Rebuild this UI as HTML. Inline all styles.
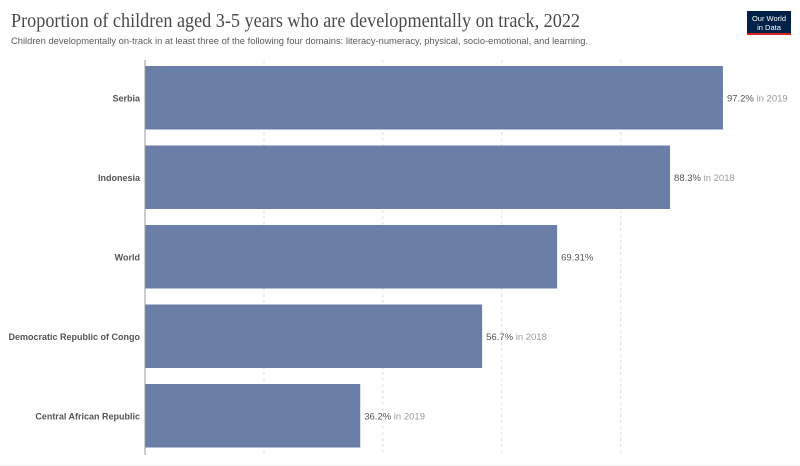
<!DOCTYPE html>
<html><head><meta charset="utf-8"><style>
body{margin:0;width:800px;height:466px;background:#fff;overflow:hidden;font-family:"Liberation Sans",sans-serif}
svg{display:block}
</style></head><body>
<svg id="c" width="800" height="466">
<text x="11" y="27" font-family="Liberation Serif, serif" font-size="19.5" fill="#4a4a4a" textLength="569" lengthAdjust="spacingAndGlyphs">Proportion of children aged 3-5 years who are developmentally on track, 2022</text>
<text x="11" y="44" font-size="9.6" fill="#5b5b5b" textLength="577" lengthAdjust="spacingAndGlyphs">Children developmentally on-track in at least three of the following four domains: literacy-numeracy, physical, socio-emotional, and learning.</text>
<g>
<rect x="747" y="11" width="44" height="24" fill="#002147"/>
<rect x="747" y="33" width="44" height="2" fill="#ce261e"/>
<text x="769" y="21" font-size="7.5" fill="#fff" text-anchor="middle">Our World</text>
<text x="769" y="30" font-size="7.5" fill="#fff" text-anchor="middle">in Data</text>
</g>
<g id="grid"></g><g id="bars"></g>
<line x1="145" y1="60" x2="145" y2="455" stroke="#999" stroke-width="1"/>
<line x1="0" y1="465.5" x2="800" y2="465.5" stroke="#eee"/>
</svg>
<script>
const categories=["Serbia","Indonesia","World","Democratic Republic of Congo","Central African Republic"];
const values=[97.2,88.3,69.31,56.7,36.2];
const valueLabels=["97.2%","88.3%","69.31%","56.7%","36.2%"];
const years=["in 2019","in 2018","","in 2018","in 2019"];
const gridTicks=[20,40,60,80];
const NS="http://www.w3.org/2000/svg";
const x=v=>145+v*5.946;
const y=i=>66+i*79.5;
const bh=63.5;
function mk(t,a,p){const e=document.createElementNS(NS,t);for(const k in a)e.setAttribute(k,a[k]);p.appendChild(e);return e;}
const g=document.getElementById('grid'),b=document.getElementById('bars');
gridTicks.forEach(t=>{
const l=mk('line',{x1:x(t),x2:x(t),y1:60,y2:455,stroke:'#ddd','stroke-dasharray':'3,3'},g);


});
categories.forEach((c,i)=>{
const r=mk('rect',{x:145,y:y(i),width:x(values[i])-145,height:bh,fill:'#6a7ea8'},b);


const lab=mk('text',{x:140,y:y(i)+bh/2+3.5,'text-anchor':'end','font-size':'9','font-weight':'bold',fill:'#555'},b);
lab.textContent=c;


const v=mk('text',{x:x(values[i])+4,y:y(i)+bh/2+3.5,'font-size':'9.5',fill:'#555'},b);


const s1=mk('tspan',{},v);s1.textContent=valueLabels[i];
if(years[i]){const s2=mk('tspan',{fill:'#999'},v);s2.textContent=' '+years[i];}
});
</script>
</body></html>
